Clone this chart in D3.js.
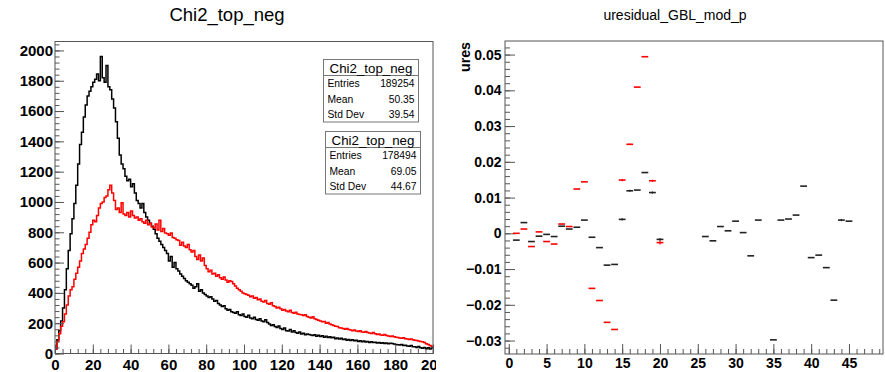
<!DOCTYPE html>
<html>
<head>
<meta charset="utf-8">
<script src="https://cdn.jsdelivr.net/npm/d3@7"></script>
<style>
  body { margin: 0; background: #fff; }
  text { font-family: "Liberation Sans", Arial, Helvetica, sans-serif; }
</style>
</head>
<body>
<svg id="chart" width="885" height="372"></svg>
<script>
// ---- left pad : Chi2_top_neg (two histograms, 1 unit bins from 0 to 200)
const chi2Bins = d3.range(0, 200, 1);

const chi2Black = [
  30, 90, 150, 215, 300, 420, 560, 680, 790, 890,
  990, 1110, 1250, 1380, 1460, 1560, 1640, 1700, 1730, 1760,
  1790, 1810, 1845, 1800, 1960, 1820, 1790, 1900, 1760, 1740,
  1680, 1620, 1530, 1420, 1310, 1250, 1220, 1170, 1140, 1150,
  1100, 1120, 1060, 1010, 990, 960, 990, 930, 900, 880,
  860, 840, 820, 790, 760, 740, 720, 700, 680, 660,
  610, 640, 570, 600, 560, 545, 525, 510, 495, 480,
  470, 460, 450, 430, 440, 460, 410, 420, 400, 390,
  380, 370, 375, 360, 345, 350, 330, 320, 310, 315,
  295, 285, 290, 275, 270, 265, 275, 255, 250, 260,
  245, 240, 252, 235, 230, 240, 225, 220, 230, 215,
  210, 222, 205, 195, 185, 190, 178, 172, 182, 165,
  158, 168, 150, 148, 158, 142, 150, 138, 133, 142,
  128, 134, 124, 128, 126, 122, 118, 124, 114, 120,
  112, 117, 108, 114, 106, 110, 104, 108, 98, 102,
  96, 100, 92, 96, 88, 92, 86, 90, 84, 88,
  80, 84, 78, 82, 76, 79, 73, 77, 72, 75,
  70, 73, 68, 71, 66, 70, 64, 68, 66, 62,
  60, 58, 56, 60, 52, 55, 50, 48, 52, 45,
  44, 40, 46, 38, 34, 40, 32, 38, 30, 36
];

const chi2Red = [
  30, 80, 130, 180, 210, 260, 320, 380, 420, 440,
  490, 530, 570, 610, 660, 690, 720, 760, 800, 850,
  880, 870, 910, 960, 990, 1000, 1030, 1040, 1080, 1110,
  1060, 1010, 950, 960, 930, 995, 920, 910, 930, 900,
  940, 910, 895, 900, 880, 890, 870, 860, 880, 850,
  860, 835, 830, 855, 815, 880, 805, 825, 795, 790,
  780, 795, 765, 760, 750, 745, 715, 735, 710, 700,
  720, 685, 670, 680, 640, 620, 650, 610, 630, 580,
  560, 540, 550, 525, 530, 510, 520, 500, 490, 505,
  485, 470, 480, 475, 460, 445, 430, 420, 410, 400,
  395, 390, 385, 375, 380, 365, 370, 355, 360, 345,
  340, 350, 330, 325, 335, 315, 310, 300, 305, 295,
  285, 290, 280, 275, 285, 270, 265, 272, 260, 258,
  255, 250, 255, 245, 240, 235, 242, 230, 225, 220,
  215, 210, 212, 200, 205, 195, 190, 185, 180, 178,
  170, 168, 165, 160, 165, 158, 155, 150, 155, 148,
  145, 150, 142, 140, 145, 138, 135, 132, 138, 130,
  125, 128, 122, 120, 125, 118, 115, 112, 115, 110,
  108, 105, 102, 100, 104, 98, 95, 92, 95, 90,
  88, 85, 82, 80, 78, 72, 65, 60, 52, 48
];

const statsBlack = [["Entries", "189254"], ["Mean", "50.35"], ["Std Dev", "39.54"]];
const statsRed = [["Entries", "178494"], ["Mean", "69.05"], ["Std Dev", "44.67"]];

// ---- right pad : uresidual_GBL_mod_p (profile, one value per module)
const modules = d3.range(1, 46);
const uresBlack = [
  -0.0019, 0.0030, -0.0023, -0.0008, -0.0003, -0.0009, 0.0020, 0.0012, 0.0017, 0.0037,
  -0.0011, -0.0040, -0.0089, -0.0087, 0.0039, 0.0119, 0.0121, 0.0170, 0.0114, -0.0017,
  null, null, null, null, null, -0.0009, -0.0021, 0.0019, 0.0007, 0.0034,
  0.0002, -0.0063, 0.0037, null, -0.0298, 0.0037, 0.0040, 0.0051, 0.0132, -0.0068,
  -0.0061, -0.0096, -0.0187, 0.0037, 0.0034
];
const uresBlackErr = [
  0, 0, 0, 0, 0, 0, 0, 0, 0, 0,
  0, 0, 0, 0, 0.0003, 0.0003, 0, 0, 0.0003, 0.0004,
  0, 0, 0, 0, 0, 0, 0, 0, 0, 0,
  0, 0, 0, 0, 0, 0, 0, 0, 0, 0,
  0, 0, 0, 0.0003, 0
];
const uresRed = [
  0.0000, 0.0012, -0.0037, 0.0004, -0.0023, -0.0030, 0.0026, 0.0019, 0.0124, 0.0144,
  -0.0154, -0.0188, -0.0249, -0.0269, 0.0149, 0.0249, 0.0409, 0.0494, 0.0147, -0.0026
];
const uresRedErr = [
  0, 0, 0, 0, 0, 0, 0, 0, 0, 0,
  0, 0, 0, 0, 0.0003, 0.0002, 0, 0, 0.0003, 0.0005
];

const svg = d3.select("#chart");
const FRAME = "#555";

// =================== left pad ===================
const left = svg.append("g");
svg.append("defs").append("clipPath").attr("id", "padL")
  .append("rect").attr("x", 0).attr("y", 0).attr("width", 436).attr("height", 372);
svg.select("defs").append("clipPath").attr("id", "frameL")
  .append("rect").attr("x", 55).attr("y", 41.5).attr("width", 378).attr("height", 312);
left.attr("clip-path", "url(#padL)");

const x = d3.scaleLinear().domain([0, 200]).range([55, 433]);
const y = d3.scaleLinear().domain([0, 2059]).range([353.5, 41.5]);

left.append("text")
  .attr("x", 227).attr("y", 21)
  .attr("text-anchor", "middle")
  .style("font-size", "18.5px")
  .text("Chi2_top_neg");

// histograms
const step = d3.line()
  .x(d => x(d[0]))
  .y(d => y(d[1]))
  .curve(d3.curveStepAfter);

function histPoints(vals) {
  const pts = [[chi2Bins[0], 0]];
  chi2Bins.forEach((b, i) => pts.push([b, vals[i]]));
  pts.push([chi2Bins[chi2Bins.length - 1] + 1, vals[vals.length - 1]]);
  return pts;
}

const hists = left.append("g").attr("clip-path", "url(#frameL)");
hists.append("path")
  .attr("d", step(histPoints(chi2Black)))
  .attr("fill", "none").attr("stroke", "#000").attr("stroke-width", 1.5);
hists.append("path")
  .attr("d", step(histPoints(chi2Red)))
  .attr("fill", "none").attr("stroke", "#f00").attr("stroke-width", 1.5);

// axes (ROOT style: ticks inside the frame)
function styleAxis(g) {
  g.select(".domain").remove();
  g.selectAll(".tick line").attr("stroke", FRAME);
}

left.append("g")
  .attr("transform", "translate(0,353.5)")
  .call(d3.axisBottom(x).tickValues(d3.range(0, 201, 4)).tickSize(-4.5).tickFormat(""))
  .call(styleAxis);
left.append("g")
  .attr("transform", "translate(0,353.5)")
  .call(d3.axisBottom(x).tickValues(d3.range(0, 201, 20)).tickSize(-9).tickPadding(5.5)
    .tickFormat(d3.format("d")))
  .call(styleAxis)
  .selectAll("text")
  .style("font-size", "15px").style("font-weight", "bold").attr("fill", "#000");

left.append("g")
  .attr("transform", "translate(55,0)")
  .call(d3.axisLeft(y).tickValues(d3.range(0, 2041, 40)).tickSize(-4.5).tickFormat(""))
  .call(styleAxis);
left.append("g")
  .attr("transform", "translate(55,0)")
  .call(d3.axisLeft(y).tickValues(d3.range(0, 2001, 200)).tickSize(-9).tickPadding(2)
    .tickFormat(d3.format("d")))
  .call(styleAxis)
  .selectAll("text")
  .style("font-size", "15px").style("font-weight", "bold").attr("fill", "#000");

left.append("rect")
  .attr("x", 55).attr("y", 41.5).attr("width", 378).attr("height", 312)
  .attr("fill", "none").attr("stroke", FRAME).attr("stroke-width", 1);

// stat boxes
function statBox(g, bx, by, rows) {
  const w = 95, hh = 16, rh = 15.5;
  const box = g.append("g").attr("transform", `translate(${bx},${by})`);
  box.append("rect")
    .attr("x", 0).attr("y", 0).attr("width", w).attr("height", hh + rh * rows.length)
    .attr("fill", "#fff").attr("stroke", "#777").attr("stroke-width", 1);
  box.append("line")
    .attr("x1", 0).attr("x2", w).attr("y1", hh).attr("y2", hh)
    .attr("stroke", "#777");
  box.append("text")
    .attr("x", w / 2).attr("y", hh / 2 + 0.5).attr("dy", "0.35em")
    .attr("text-anchor", "middle").style("font-size", "13.3px")
    .text("Chi2_top_neg");
  rows.forEach((r, i) => {
    const ty = hh + rh * i + rh / 2 + 0.5;
    box.append("text").attr("x", 4).attr("y", ty).attr("dy", "0.35em")
      .style("font-size", "10.3px").text(r[0]);
    box.append("text").attr("x", w - 4).attr("y", ty).attr("dy", "0.35em")
      .attr("text-anchor", "end").style("font-size", "10.3px").text(r[1]);
  });
}
statBox(left, 323.5, 59.5, statsBlack);
statBox(left, 325.5, 131.5, statsRed);

// =================== right pad ===================
const right = svg.append("g");
const x2 = d3.scaleLinear().domain([-0.5, 49.5]).range([505, 883]);
const y2 = d3.scaleLinear().domain([-0.03376, 0.0538]).range([354, 41]);

right.append("text")
  .attr("x", 675).attr("y", 20)
  .attr("text-anchor", "middle")
  .style("font-size", "14px")
  .text("uresidual_GBL_mod_p");

right.append("text")
  .attr("transform", "translate(470,42) rotate(-90)")
  .attr("text-anchor", "end")
  .style("font-size", "14.2px").style("font-weight", "bold")
  .text("ures");

right.append("g")
  .attr("transform", "translate(0,354)")
  .call(d3.axisBottom(x2).tickValues(d3.range(0, 50, 1)).tickSize(-5).tickFormat(""))
  .call(styleAxis);
right.append("g")
  .attr("transform", "translate(0,354)")
  .call(d3.axisBottom(x2).tickValues(d3.range(0, 46, 5)).tickSize(-10).tickPadding(3.8))
  .call(styleAxis)
  .selectAll("text")
  .style("font-size", "14px").style("font-weight", "bold").attr("fill", "#000");

const fmtRes = d => (Math.abs(d) < 1e-9 ? "0" : d3.format(".2f")(d));
right.append("g")
  .attr("transform", "translate(505,0)")
  .call(d3.axisLeft(y2).tickValues(d3.range(-32, 53, 2).map(v => v / 1000)).tickSize(-5).tickFormat(""))
  .call(styleAxis);
right.append("g")
  .attr("transform", "translate(505,0)")
  .call(d3.axisLeft(y2).tickValues([-0.03, -0.02, -0.01, 0, 0.01, 0.02, 0.03, 0.04, 0.05])
    .tickSize(-10).tickPadding(3.5).tickFormat(fmtRes))
  .call(styleAxis)
  .selectAll("text")
  .style("font-size", "14px").style("font-weight", "bold").attr("fill", "#000");

right.append("rect")
  .attr("x", 505).attr("y", 41).attr("width", 378).attr("height", 313)
  .attr("fill", "none").attr("stroke", FRAME).attr("stroke-width", 1);

function drawProfile(vals, errs, colour) {
  const pts = vals.map((v, i) => ({ m: modules[i], v: v, e: errs[i] }))
    .filter(d => d.v !== null);
  const g = right.append("g").attr("stroke", colour).attr("stroke-width", 1.6);
  g.selectAll("line.h").data(pts).join("line").attr("class", "h")
    .attr("x1", d => x2(d.m - 0.45)).attr("x2", d => x2(d.m + 0.45))
    .attr("y1", d => y2(d.v)).attr("y2", d => y2(d.v));
  g.selectAll("line.v").data(pts.filter(d => d.e > 0)).join("line").attr("class", "v")
    .attr("stroke-width", 1.2)
    .attr("x1", d => x2(d.m)).attr("x2", d => x2(d.m))
    .attr("y1", d => y2(d.v - d.e)).attr("y2", d => y2(d.v + d.e));
}
drawProfile(uresBlack, uresBlackErr, "#222");
drawProfile(uresRed, uresRedErr, "#f00");
</script>
</body>
</html>
